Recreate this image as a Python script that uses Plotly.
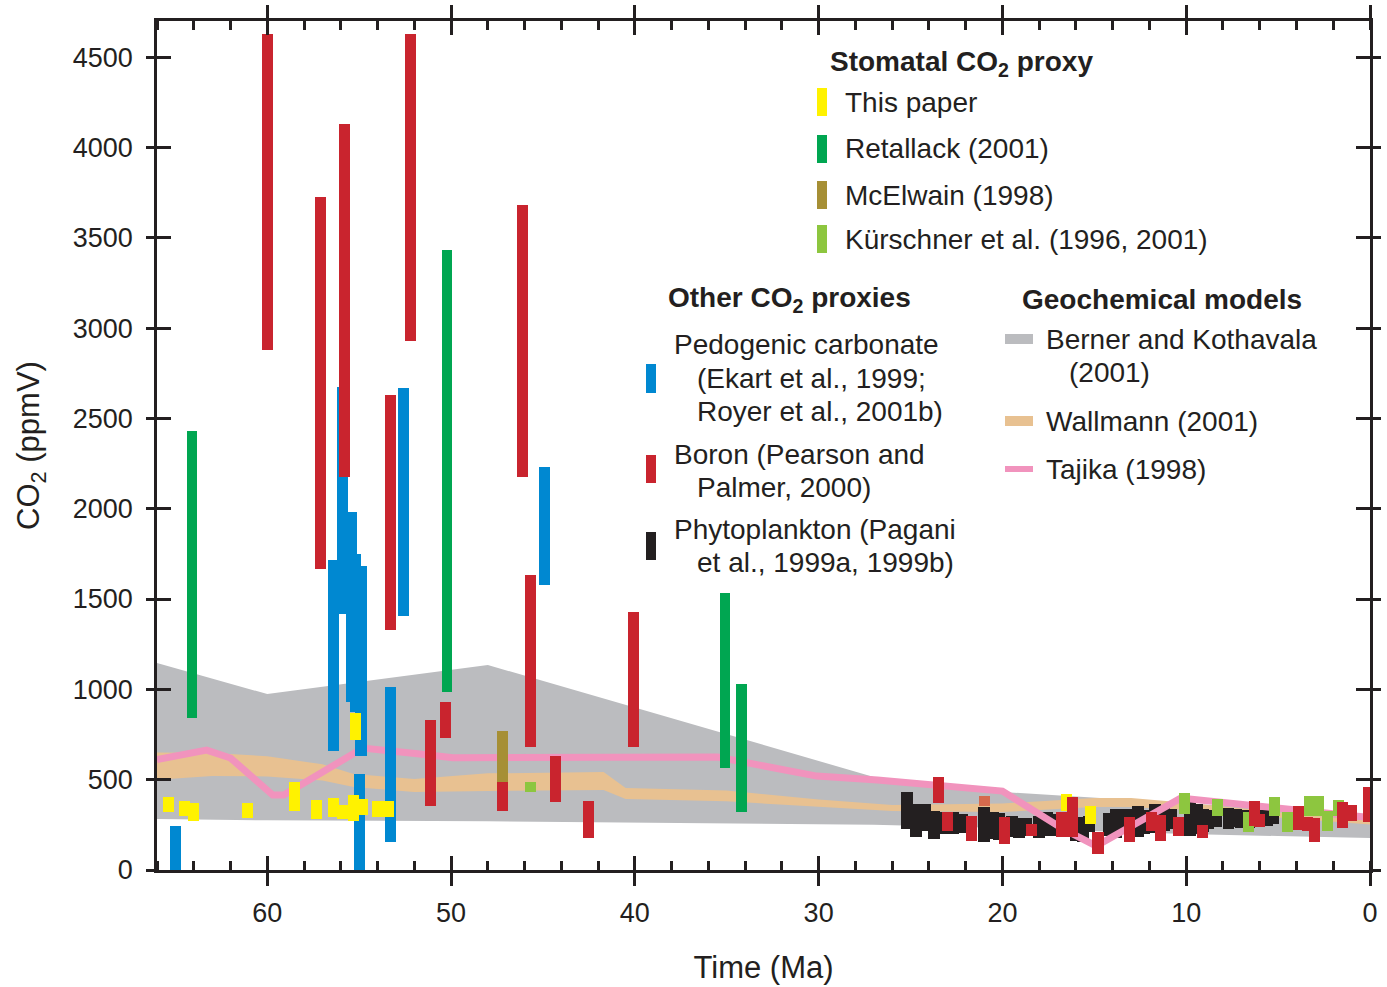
import plotly.graph_objects as go

# ---------------- data (time in Ma, CO2 in ppmV) ----------------
# Stomatal: This paper (yellow)
yel_t  = [65.4, 64.5, 64.0, 61.1, 58.5, 57.3, 56.4, 55.9, 55.3, 55.2, 54.8, 54.0, 53.4, 16.5, 15.2]
yel_lo = [321, 300, 271, 288, 327, 282, 293, 282, 271, 720, 304, 293, 293, 327, 255]
yel_hi = [404, 382, 370, 371, 487, 387, 398, 360, 415, 869, 393, 382, 382, 421, 354]

# Stomatal: Retallack (2001) (green)
ret_t  = [64.1, 50.2, 35.1, 34.2]
ret_lo = [841, 985, 565, 321]
ret_hi = [2430, 3432, 1533, 1030]

# Stomatal: McElwain (1998) (olive)
mce_t  = [47.2]
mce_lo = [487]
mce_hi = [769]

# Stomatal: Kurschner et al. (light green)
kur_t  = [45.7, 10.1, 8.3, 6.6, 5.2, 4.5, 3.3, 2.8, 2.3, 1.7]
kur_lo = [432, 310, 299, 210, 299, 210, 299, 299, 216, 299]
kur_hi = [487, 426, 393, 321, 404, 321, 410, 410, 327, 387]

# Pedogenic carbonate (blue)
ped_t  = [65.0, 56.4, 55.9, 55.4, 55.2, 54.9, 55.0, 53.3, 52.6, 44.9]
ped_lo = [0, 659, 1417, 930, 875, 631, 0, 155, 1406, 1578]
ped_hi = [244, 1716, 2673, 1982, 1749, 1683, 531, 1013, 2668, 2231]

# Boron (red)
bor_t  = [60.0, 57.1, 55.8, 53.3, 52.2, 51.1, 50.3, 47.2, 46.1, 45.7, 44.3, 42.5, 40.1,
          23.5, 23.0, 21.7, 19.9, 18.4, 16.8, 16.2, 14.8, 13.1, 11.9, 11.4, 10.4, 9.1,
          6.3, 6.0, 3.9, 3.4, 3.0, 1.5, 1.0, 0.1]
bor_lo = [2878, 1666, 2175, 1328, 2928, 354, 730, 327, 2175, 680, 376, 177, 681,
          371, 216, 160, 144, 188, 183, 183, 89, 155, 216, 160, 188, 177,
          244, 238, 221, 216, 155, 232, 271, 266]
bor_hi = [4627, 3725, 4129, 2629, 4627, 830, 930, 487, 3681, 1633, 631, 382, 1428,
          515, 321, 299, 293, 255, 321, 404, 210, 293, 321, 304, 293, 249,
          382, 310, 354, 293, 288, 376, 360, 459]
bor2_t, bor2_lo, bor2_hi = [21.0], [354], [410]

# Phytoplankton (black)
phy_t  = [25.2, 24.7, 24.2, 23.7, 23.3, 22.7, 22.2, 21.0, 20.5, 20.2, 19.5, 19.1, 18.7,
          18.0, 17.6, 17.2, 16.0, 15.6, 15.3, 14.2, 13.8, 13.4, 13.0, 12.6, 12.3,
          11.7, 11.2, 10.8, 9.8, 9.4, 9.1, 8.8, 8.4, 7.7, 7.3, 7.0, 6.6, 6.1, 5.6, 5.3]
phy_lo = [227, 183, 216, 172, 199, 199, 205, 155, 172, 166, 183, 177, 188,
          177, 188, 188, 160, 155, 210, 188, 177, 199, 188, 183, 199,
          205, 216, 227, 188, 199, 210, 227, 238, 227, 238, 232, 232, 238, 244, 255]
phy_hi = [432, 365, 365, 327, 321, 321, 310, 349, 321, 316, 299, 288, 288,
          299, 321, 310, 271, 293, 299, 316, 338, 338, 338, 354, 332,
          365, 354, 338, 376, 365, 338, 332, 332, 343, 338, 332, 332, 332, 332, 320]

# Geochemical models
ber_t  = [66, 60, 48, 27, 20, 15, 10, 5, 0]
ber_hi = [1146, 974, 1135, 515, 432, 400, 365, 335, 305]
ber_lo = [282, 275, 270, 250, 232, 215, 199, 188, 177]

wal_t  = [66, 63, 60, 57, 55.3, 52, 48, 44, 41.7, 40.5, 35, 30, 26, 20, 15, 13, 10, 5, 0]
wal_hi = [650, 648, 630, 585, 531, 504, 535, 542, 542, 454, 440, 390, 360, 368, 398, 398, 372, 320, 272]
wal_lo = [500, 520, 518, 495, 460, 432, 437, 440, 443, 393, 380, 350, 327, 321, 349, 349, 332, 290, 252]

taj_t   = [66, 63.3, 62.0, 59.7, 59.1, 54.8, 51.7, 49.9, 35.5, 30.1, 26.8, 20.0, 16.7, 14.9, 10.3, 0]
taj_co2 = [612, 664, 620, 415, 415, 675, 642, 622, 625, 520, 498, 437, 227, 133, 398, 290]

x_ticks = [60, 50, 40, 30, 20, 10, 0]
y_ticks = [0, 500, 1000, 1500, 2000, 2500, 3000, 3500, 4000, 4500]

# ---------------- styling ----------------
INK = "#231f20"
FONT = "Liberation Sans, Arial, Helvetica, sans-serif"
C_YEL, C_GRN, C_OLV, C_LGR = "#fff200", "#00a651", "#a68f35", "#8dc63f"
C_BLU, C_RED, C_BLK = "#0088d1", "#c9242e", "#231f20"
C_GRAY, C_ORG, C_PNK = "#bbbcbf", "#e8c191", "#f193bd"
C_RED2 = "#d66a4d"

fig = go.Figure()

# layer 1 (x, y): model bands
def band(t, lo, hi, color):
    fig.add_trace(go.Scatter(x=t, y=lo, mode="lines", line=dict(width=0, color=color),
                             hoverinfo="skip", showlegend=False))
    fig.add_trace(go.Scatter(x=t, y=hi, mode="lines", line=dict(width=0, color=color),
                             fill="tonexty", fillcolor=color, hoverinfo="skip", showlegend=False))

band(ber_t, ber_lo, ber_hi, C_GRAY)
band(wal_t, wal_lo, wal_hi, C_ORG)

def bars(t, lo, hi, color, w=0.6, layer="2"):
    fig.add_trace(go.Bar(x=t, y=[h - l for l, h in zip(lo, hi)], base=lo, width=w,
                         marker=dict(color=color, line=dict(width=0)),
                         showlegend=False, xaxis="x" + layer, yaxis="y" + layer, hoverinfo="skip"))

# layer 2 (x2, y2): phytoplankton bars with the Tajika line drawn over them
bars(phy_t, phy_lo, phy_hi, C_BLK, w=0.65, layer="2")
fig.add_trace(go.Scatter(x=taj_t, y=taj_co2, mode="lines", line=dict(width=7, color=C_PNK),
                         showlegend=False, hoverinfo="skip", xaxis="x2", yaxis="y2"))

# layer 3 (x3, y3): the other proxy bars on top
bars(ped_t, ped_lo, ped_hi, C_BLU, layer="3")
bars(ret_t, ret_lo, ret_hi, C_GRN, w=0.55, layer="3")
bars(mce_t, mce_lo, mce_hi, C_OLV, w=0.55, layer="3")
bars(kur_t, kur_lo, kur_hi, C_LGR, layer="3")
bars(yel_t, yel_lo, yel_hi, C_YEL, layer="3")
bars(bor2_t, bor2_lo, bor2_hi, C_RED2, layer="3")
bars(bor_t, bor_lo, bor_hi, C_RED, layer="3")

# ---------------- legend (manual) ----------------
L, T, W, H = 157, 21, 1213, 849
def px(x): return (x - L) / W
def py(y): return (T + H - y) / H

ann = []
shapes = []
def text(x, y, s, size=28, bold=False):
    ann.append(dict(x=px(x), y=py(y), xref="paper", yref="paper", xanchor="left", yanchor="middle",
                    text=("<b>%s</b>" % s) if bold else s, showarrow=False,
                    font=dict(family=FONT, size=size, color=INK)))
def swatch(x0, y0, x1, y1, color):
    shapes.append(dict(type="rect", xref="paper", yref="paper", x0=px(x0), x1=px(x1),
                       y0=py(y1), y1=py(y0), fillcolor=color, line=dict(width=0), layer="above"))

text(828, 63, "Stomatal CO<sub>2</sub> proxy", bold=True)
for yc, c, s in [(102, C_YEL, "This paper"), (149, C_GRN, "Retallack (2001)"),
                 (195, C_OLV, "McElwain (1998)"), (239, C_LGR, "Kürschner et al. (1996, 2001)")]:
    swatch(817, yc - 14, 827, yc + 14, c)
    text(843, yc, s)

text(666, 299, "Other CO<sub>2</sub> proxies", bold=True)
swatch(646, 364, 656, 393, C_BLU)
text(672, 344, "Pedogenic carbonate")
text(695, 378, "(Ekart et al., 1999;")
text(695, 411, "Royer et al., 2001b)")
swatch(646, 455, 656, 483, C_RED)
text(672, 454, "Boron (Pearson and")
text(695, 487, "Palmer, 2000)")
swatch(646, 532, 656, 560, C_BLK)
text(672, 529, "Phytoplankton (Pagani")
text(695, 562, "et al., 1999a, 1999b)")

text(1020, 299, "Geochemical models", bold=True)
swatch(1005, 334, 1033, 344, C_GRAY)
text(1044, 339, "Berner and Kothavala")
text(1067, 373, "(2001)")
swatch(1005, 416, 1033, 426, C_ORG)
text(1044, 421, "Wallmann (2001)")
swatch(1005, 466, 1033, 472, C_PNK)
text(1044, 469, "Tajika (1998)")

# ---------------- axes ----------------
xr = [66, 0]
yr = [0, 4700]
common = dict(showgrid=False, zeroline=False, tickcolor=INK, tickwidth=2.5, automargin=False)

fig.update_layout(
    width=1387, height=987,
    margin=dict(l=L, r=1387 - L - W, t=T, b=987 - T - H, autoexpand=False),
    plot_bgcolor="white", paper_bgcolor="white",
    barmode="overlay", bargap=0,
    font=dict(family=FONT, color=INK, size=27),
    annotations=ann, shapes=shapes,
    xaxis=dict(range=xr, tickmode="array", tickvals=x_ticks, ticktext=[str(v) for v in x_ticks],
               ticks="outside", ticklen=13, showline=True, linecolor=INK, linewidth=2.5,
               mirror="ticks", ticklabelstandoff=4,
               minor=dict(ticks="inside", ticklen=9, dtick=2, tick0=0, tickcolor=INK, tickwidth=2.5),
               title=dict(text="Time (Ma)", font=dict(size=31), standoff=30),
               tickfont=dict(size=27), **common),
    yaxis=dict(range=yr, tickmode="array", tickvals=y_ticks, ticktext=[str(v) for v in y_ticks],
               ticks="outside", ticklen=8, showline=True, linecolor=INK, linewidth=2.5,
               mirror="ticks", ticklabelstandoff=8,
               title=dict(text="CO<sub>2</sub> (ppmV)", font=dict(size=31), standoff=24),
               tickfont=dict(size=27), **common),
    xaxis2=dict(range=xr, overlaying="x", anchor="y2", tickmode="array", tickvals=x_ticks,
                ticks="inside", ticklen=14, showticklabels=False, showline=False, mirror="ticks",
                **common),
    yaxis2=dict(range=yr, overlaying="y", anchor="x2", tickmode="array", tickvals=y_ticks,
                ticks="inside", ticklen=14, showticklabels=False, showline=False, mirror="ticks",
                **common),
    xaxis3=dict(range=xr, overlaying="x", anchor="y3", visible=False, **common),
    yaxis3=dict(range=yr, overlaying="y", anchor="x3", visible=False, **common),
)

fig.write_html("out.html", config={"displayModeBar": False},
               post_script="document.body.style.margin='0';document.body.style.overflow='hidden';")
